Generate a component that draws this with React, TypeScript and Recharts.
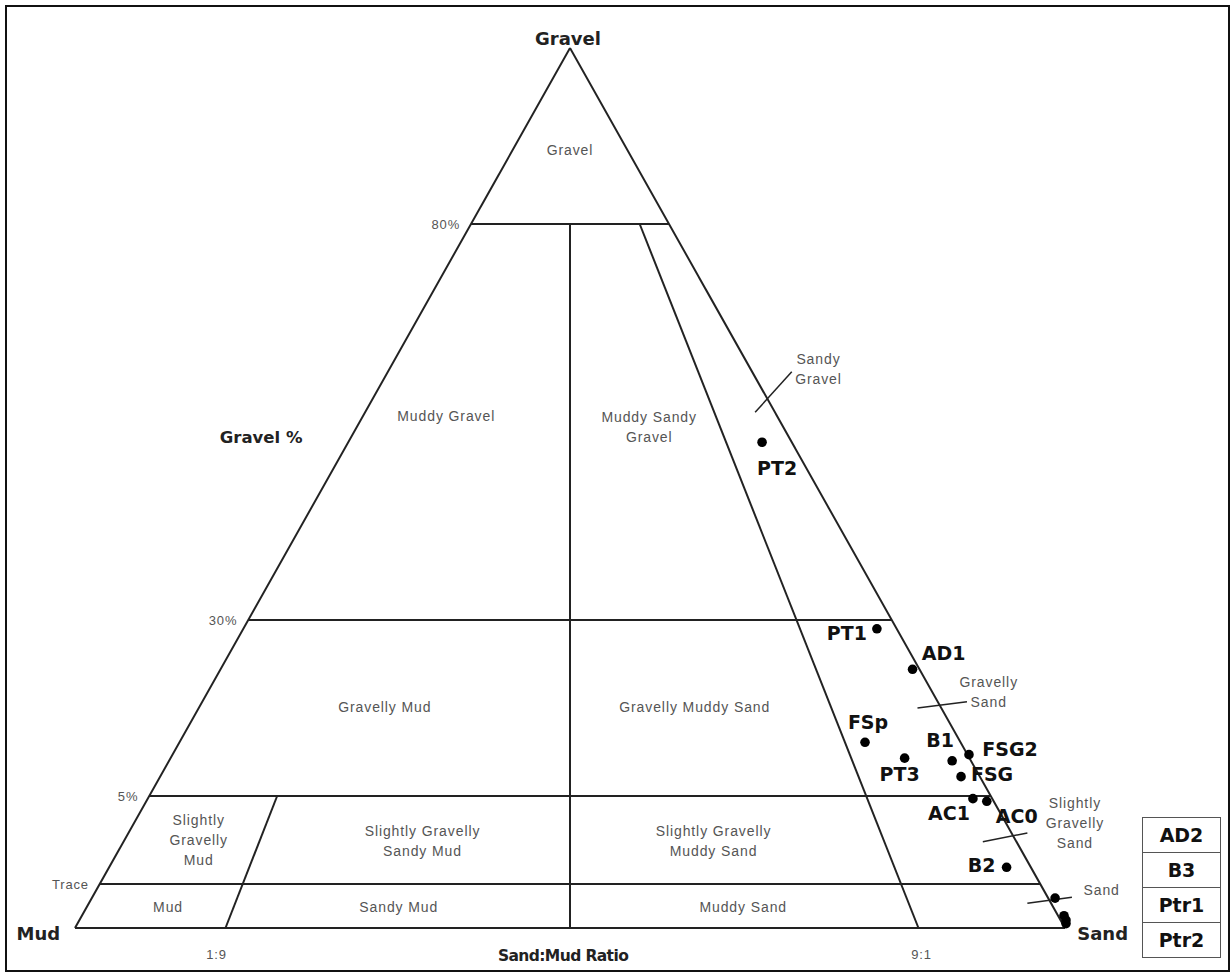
import { ScatterChart, Scatter, XAxis, YAxis, ReferenceLine } from "recharts";

// Folk (1954) gravel–sand–mud triangle. Diagram space: x 0 (Mud) .. 100 (Sand) along the base,
// y 0 (base) .. 100 (Gravel apex). The diagram is not to scale, so the class limits are given in that space.
const W = 1230;
const H = 972;
const MUD_PX = 75;
const SAND_PX = 1065;
const BASE_PX = 928;
const APEX_PX = 48;
const SX = (SAND_PX - MUD_PX) / 100;
const SY = (BASE_PX - APEX_PX) / 100;
const X_DOMAIN = [-MUD_PX / SX, (W - MUD_PX) / SX];
const Y_DOMAIN = [-(H - BASE_PX) / SY, BASE_PX / SY];

// gravel class limits
const gravelLevelLabels = ["80%", "30%", "5%", "Trace"];
const gravelLevelHeights = [80, 35, 15, 5];

// sand:mud ratio limits (base position, height where the line stops)
const ratioLabels = ["1:9", "1:1", "9:1"];
const ratioBase = [15.2, 50, 85.2];
const ratioTop = [15, 80, 80];
const ratioShown = [true, false, true];

// textural classes
const classNames = [
  "Gravel",
  "Muddy Gravel",
  "Muddy Sandy\nGravel",
  "Sandy\nGravel",
  "Gravelly Mud",
  "Gravelly Muddy Sand",
  "Gravelly\nSand",
  "Slightly\nGravelly\nMud",
  "Slightly Gravelly\nSandy Mud",
  "Slightly Gravelly\nMuddy Sand",
  "Slightly\nGravelly\nSand",
  "Mud",
  "Sandy Mud",
  "Muddy Sand",
  "Sand",
];
const classX = [50, 37.5, 58.0, 75.1, 31.3, 62.6, 92.3, 12.5, 35.1, 64.5, 101.0, 9.4, 32.7, 67.5, 103.7];
const classY = [87.8, 57.6, 56.4, 63.0, 24.5, 24.5, 26.2, 9.4, 9.3, 9.3, 11.4, 1.8, 1.8, 1.8, 3.75];

// leader ticks for the narrow classes near the sand side
const leaderX1 = [68.7, 85.1, 91.7, 96.2];
const leaderY1 = [58.6, 25.0, 9.8, 2.8];
const leaderX2 = [72.4, 90.1, 96.2, 100.7];
const leaderY2 = [63.2, 25.7, 10.8, 3.5];

// samples
const sampleNames = ["PT2", "PT1", "AD1", "FSp", "PT3", "B1", "FSG2", "FSG", "AC1", "AC0", "B2", "AD2", "B3", "Ptr1", "Ptr2"];
const sampleX = [69.4, 81.0, 84.6, 79.8, 83.8, 88.6, 90.3, 89.5, 90.7, 92.1, 94.1, 99.0, 99.9, 100.1, 100.1];
const sampleY = [55.2, 34.0, 29.4, 21.1, 19.3, 19.0, 19.7, 17.2, 14.7, 14.4, 6.9, 3.4, 1.4, 0.9, 0.5];
// samples sitting on the Sand corner, listed in the side box instead
const boxedSamples = ["AD2", "B3", "Ptr1", "Ptr2"];

// label placement (px offset from the dot)
const LABEL_OFFSET: Record<string, [number, number]> = {
  PT2: [15, 26],
  PT1: [-30, 4],
  AD1: [31, -16],
  FSp: [3, -20],
  PT3: [-5, 16],
  B1: [-12, -21],
  FSG2: [41, -5],
  FSG: [31, -2],
  AC1: [-24, 15],
  AC0: [30, 15],
  B2: [-25, -2],
};

// axis titles
const titleNames = ["Gravel", "Gravel %", "Mud", "Sand", "Sand:Mud Ratio"];
const titleX = [49.8, 18.8, -3.7, 103.8, 49.3];
const titleY = [101.1, 55.8, -0.7, -0.6, -3.1];

const leftEdge = (h: number) => h / 2;
const rightEdge = (h: number) => 100 - h / 2;
const rayX = (b: number, h: number) => b + ((50 - b) * h) / 100;

type Pt = { x: number; y: number };
const segments: [Pt, Pt][] = [
  [{ x: 0, y: 0 }, { x: 50, y: 100 }],
  [{ x: 50, y: 100 }, { x: 100, y: 0 }],
  [{ x: 0, y: 0 }, { x: 100, y: 0 }],
  ...gravelLevelHeights.map((h) => [{ x: leftEdge(h), y: h }, { x: rightEdge(h), y: h }] as [Pt, Pt]),
  ...ratioBase.map((b, i) => [{ x: b, y: 0 }, { x: rayX(b, ratioTop[i]), y: ratioTop[i] }] as [Pt, Pt]),
];
const leaders: [Pt, Pt][] = leaderX1.map((x, i) => [
  { x, y: leaderY1[i] },
  { x: leaderX2[i], y: leaderY2[i] },
]);

const classData = classNames.map((name, i) => ({ name, x: classX[i], y: classY[i] }));
const levelData = gravelLevelLabels.map((name, i) => ({ name, x: leftEdge(gravelLevelHeights[i]), y: gravelLevelHeights[i] }));
const ratioData = ratioLabels
  .map((name, i) => ({ name, x: ratioBase[i], y: 0, show: ratioShown[i] }))
  .filter((d) => d.show);
const titleData = titleNames.map((name, i) => ({ name, x: titleX[i], y: titleY[i] }));
const sampleData = sampleNames.map((name, i) => ({ name, x: sampleX[i], y: sampleY[i] }));

const THIN = "'Liberation Sans', Arial, sans-serif";
const BOLD = "'DejaVu Sans', Verdana, sans-serif";

function ClassLabel(props: any) {
  const { cx, cy, payload } = props;
  const lines = String(payload.name).split("\n");
  const lh = 20;
  return (
    <text x={cx} y={cy - ((lines.length - 1) * lh) / 2} textAnchor="middle" fontFamily={THIN} fontSize={14} letterSpacing={0.9} fill="#555" dy="0.35em">
      {lines.map((l, i) => (
        <tspan key={i} x={cx} dy={i === 0 ? 0 : lh}>
          {l}
        </tspan>
      ))}
    </text>
  );
}

function LevelLabel(props: any) {
  const { cx, cy, payload } = props;
  return (
    <text x={cx - 11} y={cy} dy="0.35em" textAnchor="end" fontFamily={THIN} fontSize={13} letterSpacing={0.8} fill="#555">
      {payload.name}
    </text>
  );
}

function RatioLabel(props: any) {
  const { cx, cy, payload } = props;
  const dx = payload.name === "1:9" ? -9 : 3;
  return (
    <text x={cx + dx} y={cy + 26} dy="0.35em" textAnchor="middle" fontFamily={THIN} fontSize={13} letterSpacing={0.8} fill="#555">
      {payload.name}
    </text>
  );
}

function TitleLabel(props: any) {
  const { cx, cy, payload } = props;
  const size = payload.name === "Sand:Mud Ratio" ? 15.5 : payload.name === "Gravel %" ? 16.5 : 18;
  return (
    <text x={cx} y={cy} dy="0.35em" textAnchor="middle" fontFamily={BOLD} fontWeight="bold" fontSize={size} fill="#222" letterSpacing={payload.name === "Sand:Mud Ratio" ? -0.6 : 0}>
      {payload.name}
    </text>
  );
}

function SampleDot(props: any) {
  const { cx, cy, payload } = props;
  const off = LABEL_OFFSET[payload.name];
  return (
    <g>
      <circle cx={cx} cy={cy} r={4.8} fill="#000" />
      {off && !boxedSamples.includes(payload.name) && (
        <text x={cx + off[0]} y={cy + off[1]} dy="0.36em" textAnchor="middle" fontFamily={BOLD} fontWeight="bold" fontSize={19} fill="#111">
          {payload.name}
        </text>
      )}
    </g>
  );
}

export default function App() {
  return (
    <div style={{ position: "absolute", left: 0, top: 0, width: W, height: H, background: "#fff" }}>
      <ScatterChart width={W} height={H} margin={{ top: 0, right: 0, bottom: 0, left: 0 }}>
        <XAxis type="number" dataKey="x" domain={X_DOMAIN} hide allowDataOverflow />
        <YAxis type="number" dataKey="y" domain={Y_DOMAIN} hide allowDataOverflow />
        {segments.map((s, i) => (
          <ReferenceLine key={"s" + i} segment={s} stroke="#222" strokeWidth={2} ifOverflow="visible" />
        ))}
        {leaders.map((s, i) => (
          <ReferenceLine key={"l" + i} segment={s} stroke="#222" strokeWidth={1.5} ifOverflow="visible" />
        ))}
        <Scatter data={classData} shape={ClassLabel} isAnimationActive={false} />
        <Scatter data={levelData} shape={LevelLabel} isAnimationActive={false} />
        <Scatter data={ratioData} shape={RatioLabel} isAnimationActive={false} />
        <Scatter data={titleData} shape={TitleLabel} isAnimationActive={false} />
        <Scatter data={sampleData} shape={SampleDot} isAnimationActive={false} />
      </ScatterChart>

      {/* outer frame */}
      <div style={{ position: "absolute", left: 5, top: 5, width: 1221, height: 963, border: "2px solid #111", pointerEvents: "none" }} />

      {/* samples plotting on the Sand corner */}
      <div style={{ position: "absolute", left: 1142, top: 817, width: 77, border: "1.5px solid #555", fontFamily: BOLD, fontWeight: "bold", fontSize: 19, color: "#111" }}>
        {boxedSamples.map((s, i) => (
          <div key={s} style={{ height: 34, lineHeight: "34px", textAlign: "center", borderTop: i === 0 ? "none" : "1.5px solid #555" }}>
            {s}
          </div>
        ))}
      </div>
    </div>
  );
}
